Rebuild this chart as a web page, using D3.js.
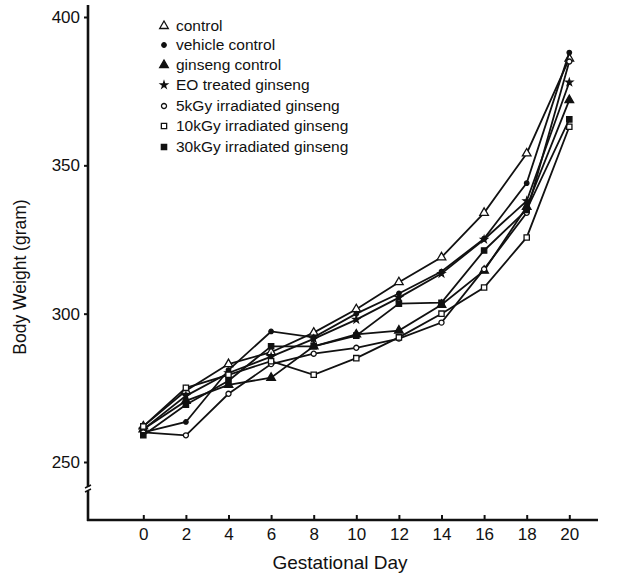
<!DOCTYPE html>
<html>
<head>
  <meta charset="utf-8">
  <script src="https://d3js.org/d3.v7.min.js"></script>
  <style>
    body { margin: 0; background: #fff; }
    text { font-family: "Liberation Sans", Arial, sans-serif; fill: #111; }
    .tick line { stroke: #111; stroke-width: 2; }
    .series path { fill: none; stroke: #111; stroke-width: 1.8; }
  </style>
</head>
<body>
<script>
// gestational days on the x axis
var days = [0, 2, 4, 6, 8, 10, 12, 14, 16, 18, 20];
var yTicks = [250, 300, 350, 400];

// body weight (gram), one array per group
var control       = [262, 274, 283, 287, 293.6, 301.5, 310.6, 319, 334, 354, 386];
var vehicle       = [260, 263.5, 281, 294, 292, 300, 306.8, 314.2, 325.3, 344, 388];
var ginsengCtrl   = [261, 270.6, 276, 278.4, 289, 293, 294.3, 303, 314.5, 336, 372];
var eoTreated     = [261, 272.3, 280, 285.5, 291.5, 298, 305.4, 313.5, 325, 338, 378];
var kGy5          = [260, 259, 273, 283, 286.5, 288.5, 291.6, 297, 315, 334, 385];
var kGy10         = [262, 275, 279.4, 284, 279.4, 285, 292, 300, 308.8, 325.7, 363];
var kGy30         = [259, 269.3, 277.4, 289, 289, 292.6, 303.4, 303.7, 321.3, 335, 365.5];

var groups = [
  {name: "control", values: control, marker: "triOpen"},
  {name: "vehicle control", values: vehicle, marker: "circleFilled"},
  {name: "ginseng control", values: ginsengCtrl, marker: "triFilled"},
  {name: "EO treated ginseng", values: eoTreated, marker: "star"},
  {name: "5kGy irradiated ginseng", values: kGy5, marker: "circleOpen"},
  {name: "10kGy irradiated ginseng", values: kGy10, marker: "squareOpen"},
  {name: "30kGy irradiated ginseng", values: kGy30, marker: "squareFilled"}
];

var width = 627, height = 578;
var svg = d3.select("body").append("svg")
    .attr("width", width)
    .attr("height", height);

var axisX = 88, axisY = 520;
var x = d3.scaleLinear().domain([0, 20]).range([143.3, 569.3]);
var y = d3.scaleLinear().domain([250, 400]).range([462, 17]);

// marker shapes
function markerPath(kind) {
  if (kind == "triOpen" || kind == "triFilled") return d3.symbol().type(d3.symbolTriangle).size(32)();
  if (kind == "circleFilled") return d3.symbol().type(d3.symbolCircle).size(16)();
  if (kind == "circleOpen") return d3.symbol().type(d3.symbolCircle).size(20)();
  if (kind == "star") return d3.symbol().type(d3.symbolStar).size(14)();
  return d3.symbol().type(d3.symbolSquare).size(28)();
}
function isOpen(kind) {
  return kind == "triOpen" || kind == "circleOpen" || kind == "squareOpen";
}

// axes
var yAxis = d3.axisLeft(y).tickValues(yTicks).tickSize(4).tickPadding(4);
var gy = svg.append("g").attr("transform", "translate(" + axisX + ",0)").call(yAxis);
gy.select(".domain").remove();
gy.selectAll("text").style("font-size", "17px");

var xAxis = d3.axisBottom(x).tickValues(days).tickSize(-5).tickPadding(8);
var gx = svg.append("g").attr("transform", "translate(0," + axisY + ")").call(xAxis);
gx.select(".domain").remove();
gx.selectAll("text").style("font-size", "17px");

svg.append("line").attr("x1", axisX).attr("y1", 5).attr("x2", axisX).attr("y2", axisY + 1)
  .attr("stroke", "#111").attr("stroke-width", 2.6);
svg.append("line").attr("x1", axisX - 1).attr("y1", axisY).attr("x2", 598).attr("y2", axisY)
  .attr("stroke", "#111").attr("stroke-width", 2.6);

// axis break on y
svg.append("rect").attr("x", axisX - 3).attr("y", 487).attr("width", 6).attr("height", 4).attr("fill", "#fff");
[486, 490].forEach(function(b) {
  svg.append("line").attr("x1", axisX - 3).attr("y1", b + 2).attr("x2", axisX + 3).attr("y2", b - 1)
    .attr("stroke", "#111").attr("stroke-width", 1.4);
});

// axis titles
svg.append("text").attr("x", 340).attr("y", 569).attr("text-anchor", "middle")
  .style("font-size", "19px").text("Gestational Day");
svg.append("text").attr("transform", "translate(26,277) rotate(-90)").attr("text-anchor", "middle")
  .style("font-size", "17.5px").text("Body Weight (gram)");

// series
var line = d3.line().x(function(d, i) { return x(days[i]); }).y(function(d) { return y(d); });

groups.forEach(function(g) {
  var gs = svg.append("g").attr("class", "series");
  gs.append("path").attr("d", line(g.values));
  gs.selectAll("path.mk").data(g.values).enter().append("path")
    .attr("class", "mk")
    .attr("d", markerPath(g.marker))
    .attr("transform", function(d, i) { return "translate(" + x(days[i]) + "," + y(d) + ")"; })
    .style("fill", isOpen(g.marker) ? "#fff" : "#111")
    .style("stroke", "#111")
    .style("stroke-width", 1.3);
});

// legend
var legRows = [31, 50, 70, 90, 111, 131, 152];
groups.forEach(function(g, i) {
  svg.append("path")
    .attr("d", markerPath(g.marker))
    .attr("transform", "translate(164," + (legRows[i] - 5) + ")")
    .style("fill", isOpen(g.marker) ? "#fff" : "#111")
    .style("stroke", "#111").style("stroke-width", 1.3);
  svg.append("text").attr("x", 176).attr("y", legRows[i])
    .style("font-size", "15.5px").text(g.name);
});
</script>
</body>
</html>
